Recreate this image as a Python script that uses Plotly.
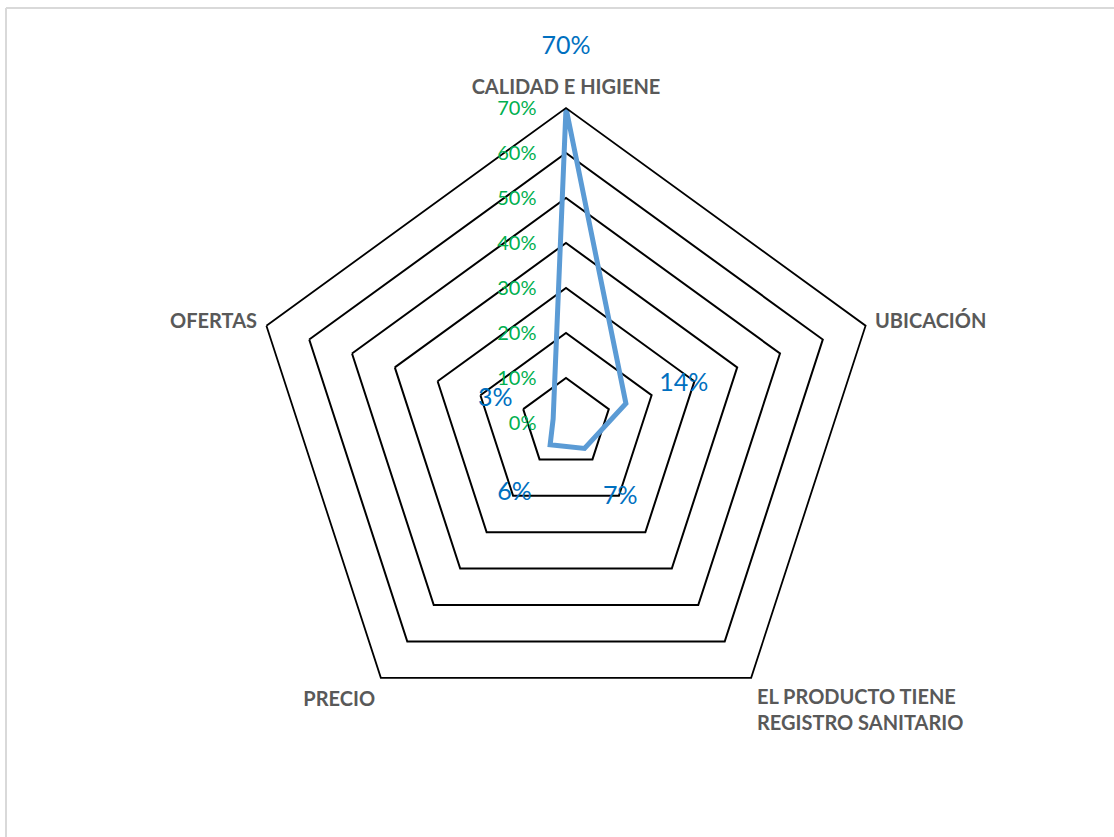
import plotly.graph_objects as go

categories = ["CALIDAD E HIGIENE", "UBICACIÓN", "EL PRODUCTO TIENE<br>REGISTRO SANITARIO", "PRECIO", "OFERTAS"]
values = [0.70, 0.14, 0.07, 0.06, 0.03]
value_labels = ["70%", "14%", "7%", "6%", "3%"]
label_offset = 0.135
r_max = 0.7
r_label_max = 0.9

fig = go.Figure()
fig.add_trace(go.Scatterpolar(
    r=values + [values[0]],
    theta=categories + [categories[0]],
    mode="lines",
    line=dict(color="#5B9BD5", width=5),
    showlegend=False,
    hoverinfo="skip",
    subplot="polar",
))
fig.add_trace(go.Scatterpolar(
    r=[v + label_offset for v in values],
    theta=categories,
    mode="text",
    text=value_labels,
    textfont=dict(family="Lato", size=25, color="#0070C0"),
    showlegend=False,
    hoverinfo="skip",
    subplot="polar2",
))

cx, cy, R = 566, 423, 315
R2 = R * r_label_max / r_max
W, H = 1114, 837
fig.update_layout(
    width=W, height=H,
    margin=dict(l=0, r=0, t=0, b=0),
    paper_bgcolor="white",
    plot_bgcolor="white",
    polar=dict(
        domain=dict(x=[(cx - R) / W, (cx + R) / W], y=[(H - cy - R) / H, (H - cy + R) / H]),
        gridshape="linear",
        bgcolor="white",
        angularaxis=dict(
            direction="clockwise",
            rotation=90,
            showgrid=False,
            showline=True,
            linecolor="black",
            linewidth=1.8,
            ticks="outside",
            ticklen=5,
            tickcolor="rgba(0,0,0,0)",
            tickfont=dict(family="Lato", size=20, color="#595959", weight="bold"),
        ),
        radialaxis=dict(
            range=[0, r_max],
            dtick=0.1,
            tickformat=".0%",
            angle=90,
            side="counterclockwise",
            tickangle=90,
            showline=False,
            ticks="outside",
            ticklen=22,
            tickcolor="rgba(0,0,0,0)",
            gridcolor="black",
            gridwidth=1.8,
            tickfont=dict(family="Lato", size=20, color="#00B050"),
        ),
    ),
    polar2=dict(
        domain=dict(x=[(cx - R2) / W, (cx + R2) / W], y=[(H - cy - R2) / H, (H - cy + R2) / H]),
        bgcolor="rgba(0,0,0,0)",
        angularaxis=dict(direction="clockwise", rotation=90, visible=False,
                         categoryorder="array", categoryarray=categories),
        radialaxis=dict(range=[0, r_label_max], visible=False),
    ),
    shapes=[
        dict(type="line", xref="paper", yref="paper", x0=6 / W, x1=1.2, y0=1 - 8 / H, y1=1 - 8 / H,
             line=dict(color="#D9D9D9", width=2)),
        dict(type="line", xref="paper", yref="paper", x0=6 / W, x1=6 / W, y0=-0.2, y1=1 - 8 / H,
             line=dict(color="#D9D9D9", width=2)),
    ],
)

fig.write_html("out.html")
